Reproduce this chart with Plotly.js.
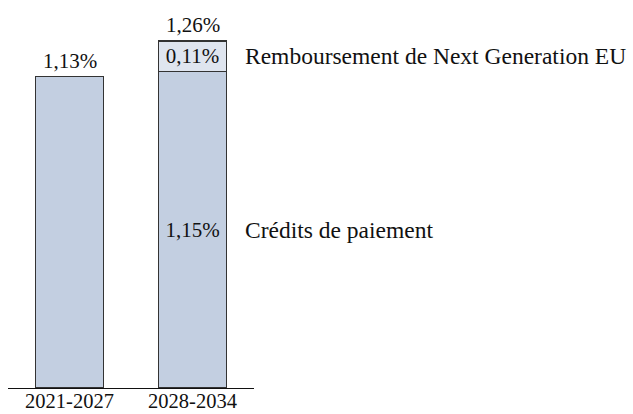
<!DOCTYPE html>
<html>
<head>
<meta charset="utf-8">
<script src="https://cdn.plot.ly/plotly-3.0.1.min.js"></script>
<style>html,body{margin:0;padding:0;background:#fff;}#chart{width:633px;height:414px;}</style>
</head>
<body>
<div id="chart"></div>
<script>
var categories = ['2021-2027', '2028-2034'];
var credits = [1.13, 1.15];
var remboursement = [0, 0.11];
var totals = [1.13, 1.26];
var seriesNames = ['Crédits de paiement', 'Remboursement de Next Generation EU'];

function fmt(v) { return v.toFixed(2).replace('.', ',') + '%'; }

var FONT = 'Liberation Serif';
var FS = 21;
var LFS = 23.5;
var lineStyle = {color: '#333333', width: 1.3};

var traces = [
  {
    type: 'bar', x: categories, y: credits, name: seriesNames[0],
    marker: {color: '#c3cfe1', line: lineStyle},
    text: credits.map(function (v, i) { return i === 1 ? fmt(v) : ''; }),
    textposition: 'inside', insidetextanchor: 'middle',
    textfont: {family: FONT, size: FS, color: '#111'},
    hoverinfo: 'none'
  },
  {
    type: 'bar', x: categories, y: remboursement, name: seriesNames[1],
    marker: {color: '#dfe5ef', line: lineStyle},
    text: remboursement.map(function (v) { return v > 0 ? fmt(v) : ''; }),
    textposition: 'inside', insidetextanchor: 'middle',
    textfont: {family: FONT, size: FS, color: '#111'},
    hoverinfo: 'none'
  }
];

var annotations = [];
categories.forEach(function (c, i) {
  annotations.push({
    x: c, y: totals[i], xref: 'x', yref: 'y', text: fmt(totals[i]),
    showarrow: false, yanchor: 'bottom', yshift: 2,
    font: {family: FONT, size: FS, color: '#111'}
  });
});
annotations.push({
  x: categories[1], y: credits[1] + remboursement[1] / 2, xref: 'x', yref: 'y',
  text: seriesNames[1], showarrow: false, xanchor: 'left', xshift: 50,
  font: {family: FONT, size: LFS, color: '#111'}
});
annotations.push({
  x: categories[1], y: credits[1] / 2, xref: 'x', yref: 'y',
  text: seriesNames[0], showarrow: false, xanchor: 'left', xshift: 50,
  font: {family: FONT, size: LFS, color: '#111'}
});

var layout = {
  width: 633, height: 414,
  margin: {l: 8, r: 379, t: 20, b: 26},
  barmode: 'stack', bargap: 0.45,
  showlegend: false,
  paper_bgcolor: '#fff', plot_bgcolor: '#fff',
  font: {family: FONT, size: FS, color: '#111'},
  xaxis: {
    type: 'category', range: [-0.5, 1.5],
    showline: true, linecolor: '#111', linewidth: 1.2,
    ticks: '', showgrid: false, zeroline: false,
    ticklabelstandoff: -6,
    tickfont: {family: FONT, size: 20.5, color: '#111'}
  },
  yaxis: {
    range: [0, 1.336], visible: false, showgrid: false, zeroline: false
  },
  annotations: annotations,
  uniformtext: {mode: false}
};

Plotly.newPlot('chart', traces, layout, {staticPlot: true});
</script>
</body>
</html>
